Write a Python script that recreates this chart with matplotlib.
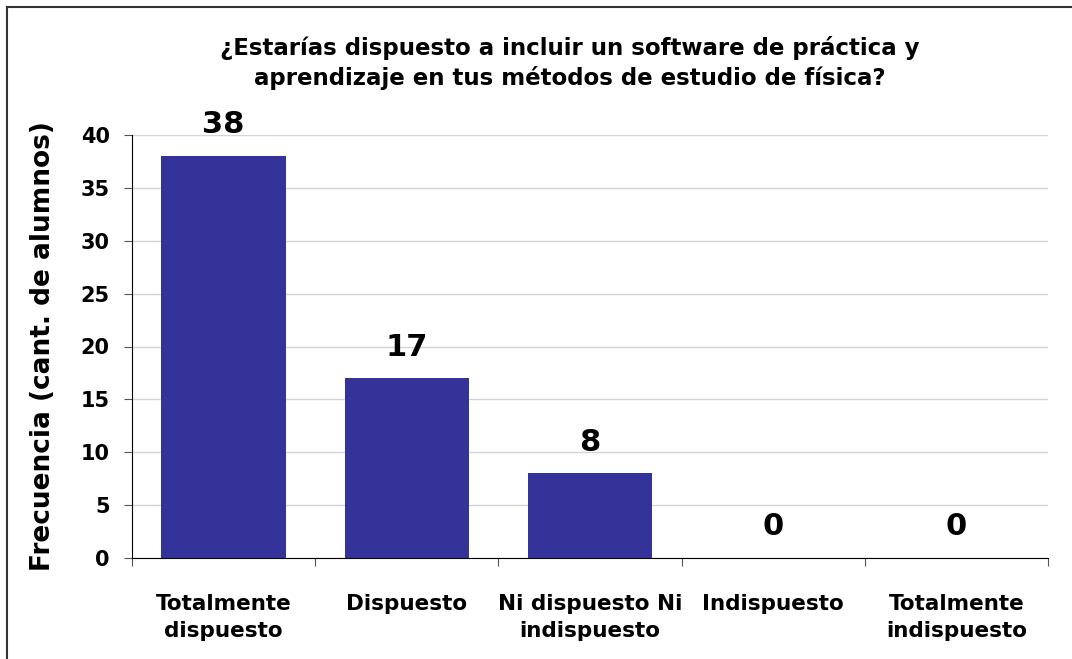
import matplotlib
matplotlib.use("Agg")
import matplotlib.pyplot as plt
from matplotlib.lines import Line2D

categorias = ['Totalmente\ndispuesto', 'Dispuesto', 'Ni dispuesto Ni\nindispuesto',
              'Indispuesto', 'Totalmente\nindispuesto']
frecuencias = [38, 17, 8, 0, 0]
ticks_y = [0, 5, 10, 15, 20, 25, 30, 35, 40]

plt.rcParams['font.family'] = 'DejaVu Sans'
plt.rcParams['font.weight'] = 'bold'

fig = plt.figure(figsize=(10.72, 6.59), dpi=100)
ax = fig.add_axes([132/1072, 1 - 558/659, (1048-132)/1072, (558-135)/659])

x = list(range(len(categorias)))
barras = ax.bar(x, frecuencias, width=0.68, color='#333399', zorder=3)

ax.set_xlim(-0.5, len(categorias) - 0.5)
ax.set_ylim(0, 40)
ax.set_yticks(ticks_y)
ax.set_yticklabels([str(t) for t in ticks_y], fontsize=15, fontweight='bold')
ax.yaxis.grid(True, color='#d4d4d4', linewidth=1, zorder=0)
ax.set_axisbelow(True)

# ticks del eje x en los bordes de cada categoría
ax.set_xticks([i - 0.5 for i in range(len(categorias) + 1)])
ax.set_xticklabels([])
ax.set_xticks(x, minor=True)
ax.set_xticklabels(categorias, minor=True, fontsize=15.5, fontweight='bold', linespacing=1.4)
ax.tick_params(axis='x', which='minor', length=0, pad=26)
ax.tick_params(axis='x', which='major', length=6, direction='out', color='#555555')
ax.tick_params(axis='y', length=6, direction='out', pad=10, color='#555555')

for s in ['top', 'right']:
    ax.spines[s].set_visible(False)
ax.spines['left'].set_color('black')
ax.spines['bottom'].set_color('black')

ax.set_ylabel('Frecuencia (cant. de alumnos)', fontsize=19, fontweight='bold', labelpad=18)

for barra, v in zip(barras, frecuencias):
    ax.annotate(str(v), (barra.get_x() + barra.get_width() / 2, v),
                xytext=(0, 12), textcoords='offset points',
                ha='center', va='bottom', fontsize=22, fontweight='bold')

fig.text(570/1072, 1 - 63/659,
         '¿Estarías dispuesto a incluir un software de práctica y\naprendizaje en tus métodos de estudio de física?',
         ha='center', va='center', fontsize=16.5, fontweight='bold', linespacing=1.35)

# marco del gráfico (solo arriba e izquierda visibles)
fig.add_artist(Line2D([7/1072, 1], [1 - 7/659, 1 - 7/659], color='#333333', linewidth=1.5))
fig.add_artist(Line2D([7/1072, 7/1072], [0, 1 - 7/659], color='#333333', linewidth=1.5))

fig.savefig('out.png', dpi=100)
